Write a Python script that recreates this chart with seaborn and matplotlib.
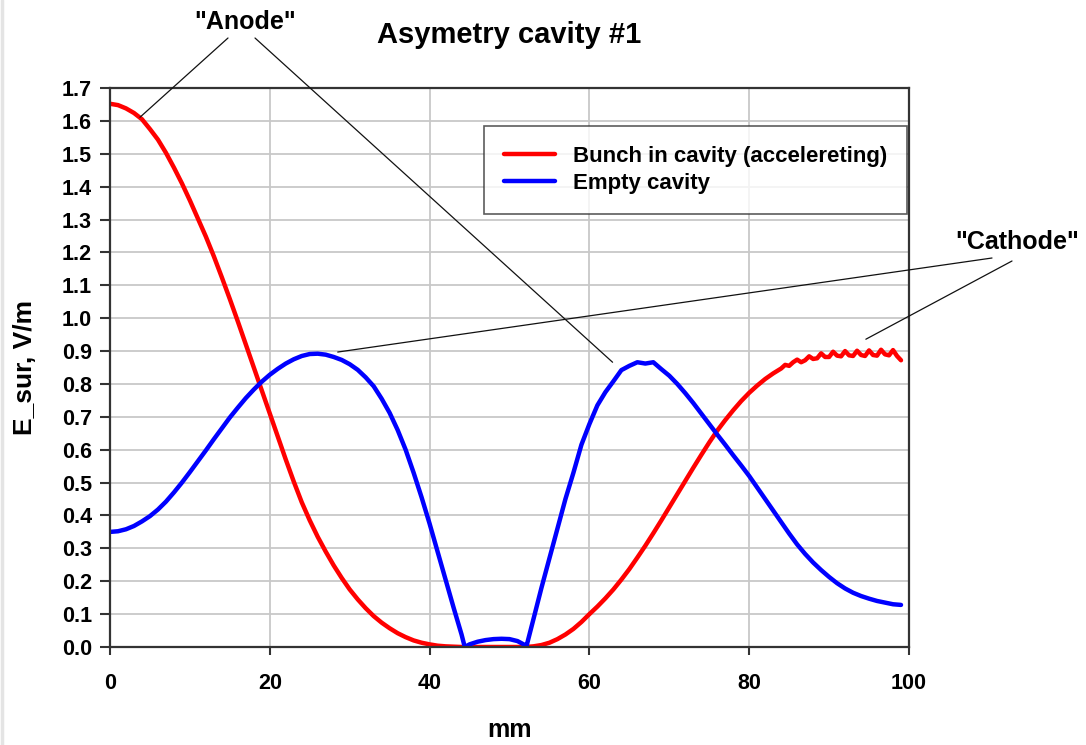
import matplotlib
matplotlib.use("Agg")
import matplotlib.pyplot as plt
from matplotlib.lines import Line2D
import seaborn as sns

# ---------------- data ----------------
red_x = list(range(0, 85)) + [84.5 + 0.5 * i for i in range(30)]
red_x = sorted(set(red_x))
red_y = [1.652, 1.648, 1.638, 1.624, 1.605, 1.575, 1.543, 1.503, 1.458, 1.410,
         1.358, 1.303, 1.248, 1.188, 1.124, 1.058, 0.990, 0.920, 0.850, 0.780,
         0.710, 0.640, 0.570, 0.503, 0.440, 0.385, 0.335, 0.290, 0.248, 0.210,
         0.175, 0.145, 0.118, 0.094, 0.074, 0.057, 0.042, 0.030, 0.020, 0.013,
         0.008, 0.004, 0.002, 0.001, 0.000, 0.000, 0.000, 0.000, 0.000, 0.000,
         0.000, 0.000, 0.000, 0.002, 0.006, 0.013, 0.024, 0.038, 0.055, 0.076,
         0.100, 0.123, 0.148, 0.175, 0.205, 0.237, 0.272, 0.308, 0.346, 0.385,
         0.425, 0.465, 0.505, 0.545, 0.584, 0.622, 0.658, 0.690, 0.720, 0.748,
         0.773, 0.795, 0.815, 0.832, 0.847,
         0.858, 0.855, 0.866, 0.874, 0.866, 0.872, 0.884, 0.876, 0.878, 0.893,
         0.882, 0.882, 0.898, 0.886, 0.884, 0.900, 0.887, 0.885, 0.901, 0.888,
         0.885, 0.902, 0.888, 0.886, 0.904, 0.890, 0.887, 0.903, 0.885, 0.872]

blue_x = sorted(list(range(0, 45)) + [44.4] + list(range(45, 53)) + [52.1]
                + list(range(53, 100)))
blue_y = [0.350, 0.352, 0.358, 0.368, 0.382, 0.398, 0.418, 0.442, 0.470, 0.500,
          0.532, 0.565, 0.598, 0.632, 0.665, 0.698, 0.728, 0.757, 0.783, 0.807,
          0.828, 0.846, 0.862, 0.875, 0.885, 0.891, 0.892, 0.889, 0.882, 0.873,
          0.860, 0.843, 0.820, 0.793, 0.755, 0.712, 0.660, 0.600, 0.530, 0.455,
          0.375, 0.290, 0.205, 0.120, 0.038, 0.000,
          0.008, 0.016, 0.021, 0.024, 0.025, 0.024, 0.018, 0.005, 0.000,
          0.085, 0.180, 0.270, 0.360, 0.450, 0.530, 0.615, 0.678, 0.735, 0.775,
          0.808, 0.842, 0.855, 0.866, 0.862, 0.866, 0.845, 0.825, 0.800, 0.772,
          0.742, 0.710, 0.678, 0.646, 0.615, 0.583, 0.552, 0.520, 0.485, 0.450,
          0.415, 0.380, 0.345, 0.312, 0.283, 0.257, 0.234, 0.213, 0.194, 0.178,
          0.165, 0.155, 0.147, 0.140, 0.135, 0.130, 0.128]

x_ticks = [0, 20, 40, 60, 80, 100]
y_ticks = [round(0.1 * i, 1) for i in range(18)]
y_tick_labels = [f"{v:.1f}" for v in y_ticks]

red_label = "Bunch in cavity (accelereting)"
blue_label = "Empty cavity"

# ---------------- style ----------------
sns.set_style("white")
plt.rcParams['font.family'] = ['Liberation Sans', 'DejaVu Sans']
plt.rcParams['font.weight'] = 'bold'
plt.rcParams['text.color'] = 'black'
plt.rcParams['axes.labelcolor'] = 'black'

W, H = 1086, 745
fig = plt.figure(figsize=(W / 100, H / 100), dpi=100)
ax = fig.add_axes([110 / W, 1 - 647 / H, (909 - 110) / W, (647 - 88) / H])

sns.lineplot(x=red_x, y=red_y, color="#ff0000", lw=3.2, label=red_label,
             estimator=None, sort=False, ax=ax)
sns.lineplot(x=blue_x, y=blue_y, color="#0000ff", lw=3.2, label=blue_label,
             estimator=None, sort=False, ax=ax)

ax.set_xlim(0, 100)
ax.set_ylim(0, 1.7)
ax.set_xticks(x_ticks)
ax.set_xticklabels([str(t) for t in x_ticks])
ax.set_yticks(y_ticks)
ax.set_yticklabels(y_tick_labels)
ax.grid(True, color="#c8c8c8", lw=1.3)
ax.set_axisbelow(True)
for s in ax.spines.values():
    s.set_visible(True)
    s.set_color("#333333")
    s.set_linewidth(1.6)
ax.tick_params(axis="both", direction="out", color="#333333", width=1.5,
               labelsize=15.5, labelcolor="black")
ax.tick_params(axis="y", length=7, pad=6, left=True)
ax.tick_params(axis="x", length=6, pad=13, bottom=True)
for lbl in ax.get_xticklabels() + ax.get_yticklabels():
    lbl.set_fontweight("bold")

ax.set_xlabel("mm", fontsize=18, fontweight="bold", color="black")
ax.set_ylabel("E_sur, V/m", fontsize=19, fontweight="bold", color="black")
ax.xaxis.set_label_coords(0.5, (647 - 730) / 559)
ax.xaxis.label.set_va("center")
ax.yaxis.set_label_coords((25 - 110) / 799, 0.5)
ax.yaxis.label.set_va("center")

leg = ax.legend(loc="upper right", bbox_to_anchor=(0.9975, 0.932),
                frameon=True, fancybox=False, edgecolor="#333333",
                prop={"weight": "bold", "size": 16}, handlelength=2.3,
                borderpad=0.9, labelspacing=0.25, handletextpad=0.8,
                borderaxespad=0)
leg.get_frame().set_linewidth(1.2)
for t in leg.get_texts():
    t.set_color("black")

fig.text((110 + 909) / 2 / W, 1 - 35 / H, "Asymetry cavity #1", fontsize=21,
         fontweight="bold", ha="center", va="center", color="black")

def fpt(px, py):
    return (px / W, 1 - py / H)

fig.text(*fpt(245, 22), '"Anode"', fontsize=18, fontweight="bold",
         ha="center", va="center", color="black")
fig.text(*fpt(1017, 242), '"Cathode"', fontsize=18, fontweight="bold",
         ha="center", va="center", color="black")

ann = [((228, 38), (3.75, 1.611)), ((255, 38), (62.9, 0.866)),
       ((992, 258), (28.5, 0.897)), ((1012, 261), (94.6, 0.936))]
for start, end in ann:
    ax.annotate("", xy=end, xycoords="data", xytext=fpt(*start),
                textcoords="figure fraction",
                arrowprops=dict(arrowstyle="-", lw=0.9, color="#111111",
                                shrinkA=0, shrinkB=0),
                annotation_clip=False)

fig.add_artist(Line2D([1.5 / W, 1.5 / W], [0, 1], color="#e4e4e4", lw=2.5))

fig.savefig("out.png", dpi=100)
